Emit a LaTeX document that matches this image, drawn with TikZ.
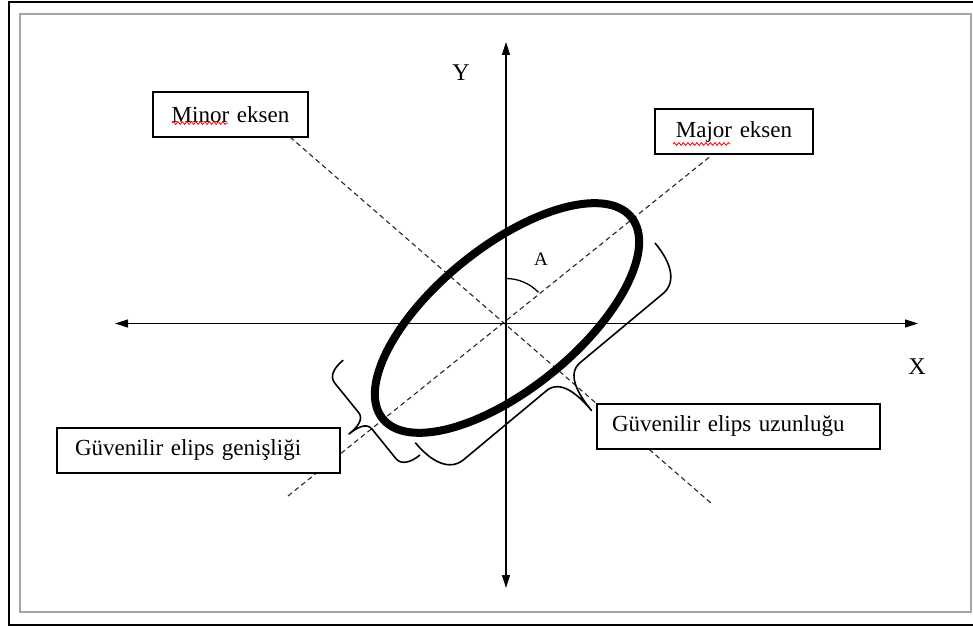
\documentclass[tikz,border=0pt]{standalone}
\usepackage{fontspec}
\setmainfont{Liberation Serif}
\usetikzlibrary{arrows.meta,decorations.pathmorphing}
\newcommand\curlybrace[4]{% #1 start, #2 angle, #3 length, #4 amplitude
  \begin{scope}[shift={#1}, rotate=#2]
    \draw[bracestyle] (0,0) .. controls (0,0.3*#4) and (0.1*#4,0.5*#4) .. (0.3*#4,0.5*#4)
      -- (0.5*#3-0.25*#4,0.5*#4) .. controls (0.5*#3-0.05*#4,0.5*#4) and (0.5*#3,0.75*#4) .. (0.5*#3,#4)
      .. controls (0.5*#3,0.75*#4) and (0.5*#3+0.05*#4,0.5*#4) .. (0.5*#3+0.25*#4,0.5*#4)
      -- (#3-0.3*#4,0.5*#4) .. controls (#3-0.1*#4,0.5*#4) and (#3,0.3*#4) .. (#3,0);
  \end{scope}}
\begin{document}
\begin{tikzpicture}[x=1pt,y=1pt,
  axis/.style={line width=1.3pt, {Triangle[length=13pt,width=8pt]}-{Triangle[length=13pt,width=8pt]}},
  dashline/.style={line width=1.1pt, dash pattern=on 5pt off 3.5pt, black!85},
  labelbox/.style={draw, line width=1.2pt, fill=white, minimum height=45pt, inner ysep=0pt, font=\fontsize{23}{27}\selectfont},
  axislabel/.style={font=\fontsize{24}{28}\selectfont},
  bracestyle/.style={line width=1.6pt, line join=round},
  squiggle/.style={red, line width=0.8pt, decorate, decoration={snake, amplitude=1.4pt, segment length=4.5pt}}
]
\useasboundingbox (0,0) rectangle (973,626);
% frames
\draw[line width=1.5pt] (980,1) -- (9,1) -- (9,624) -- (980,624);
\draw[gray!70, line width=2pt] (20,14) rectangle (971,612);

% coordinates
\coordinate (O) at (506,302.5);
\coordinate (xl) at (115,302.5);
\coordinate (xr) at (918,302.5);
\coordinate (yt) at (506,584);
\coordinate (yb) at (506,38);
\coordinate (majA) at (288,130);
\coordinate (majB) at (712,471);
\coordinate (minA) at (290,489);
\coordinate (minB) at (712,122);

% dashed axes of the ellipse
\draw[dashline] (majA) -- (majB);
\draw[dashline] (minA) -- (minB);

% coordinate axes
\draw[axis] (xl) -- (xr);
\draw[axis] (yb) -- (yt);

% ellipse
\draw[line width=8pt, rotate around={39:(507,308)}] (507,308) ellipse [x radius=160, y radius=71];

% angle
\draw[line width=1.3pt] (O) ++(90:45) arc[start angle=90, end angle=44, radius=45];
\node[font=\fontsize{19}{22}\selectfont] (alab) at (541,367) {A};

% braces
\curlybrace{(655,383)}{219.8}{312}{88}
\curlybrace{(420,171)}{129}{122}{42}

% labels
\node[axislabel] (ylab) at (461,553) {Y};
\node[axislabel] (xlab) at (917,259) {X};

\node[labelbox, text width=135pt, inner xsep=10pt, align=center] (minor) at (230.5,511.5) {Minor eksen};
\node[labelbox, text width=138pt, inner xsep=10pt, align=center] (major) at (734,494.5) {Major eksen};
\node[labelbox, text width=247pt, inner xsep=18pt, align=left] (wid) at (198.5,175.5) {Güvenilir elips genişliği};
\node[labelbox, text width=253pt, inner xsep=15pt, align=left] (len) at (738.5,199.5) {Güvenilir elips uzunluğu};

% spell-check squiggles
\draw[squiggle] (172,503) -- (228,503);
\draw[squiggle] (673,482) -- (730,482);
\end{tikzpicture}
\end{document}
